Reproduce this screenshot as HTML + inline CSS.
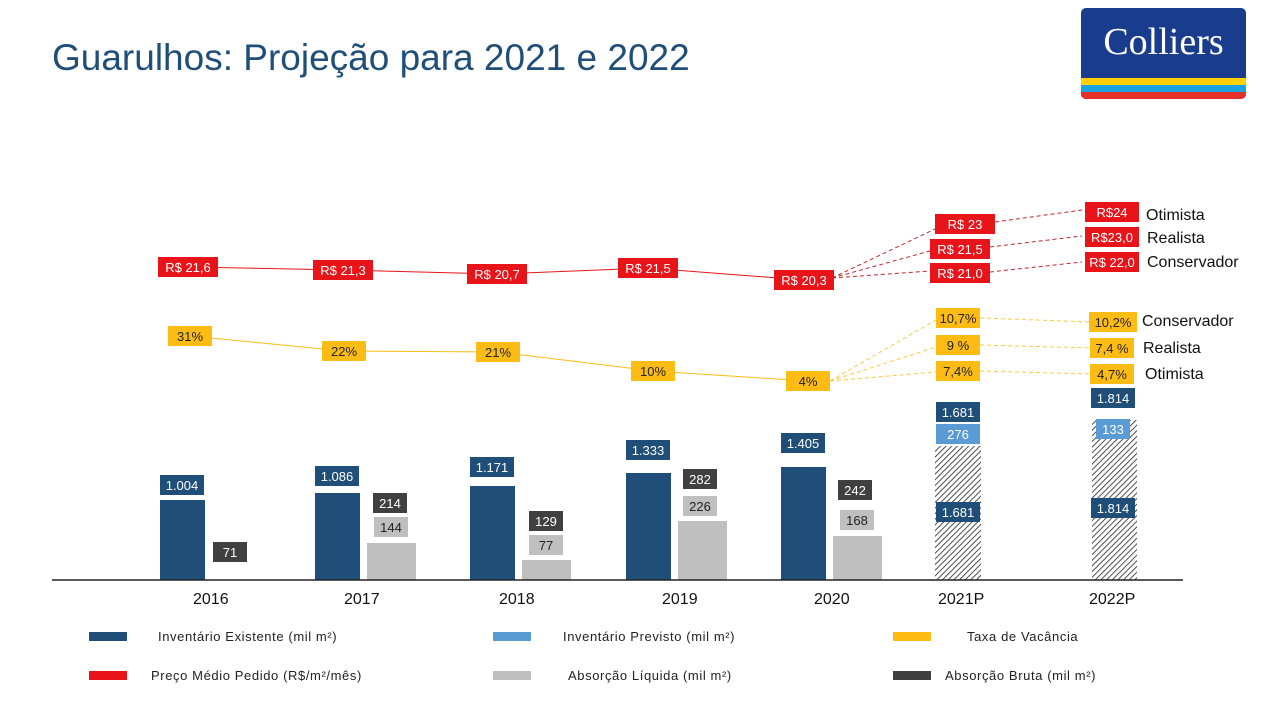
<!DOCTYPE html>
<html><head><meta charset="utf-8"><style>
body{margin:0;width:1280px;height:720px;background:#fff;position:relative;overflow:hidden;font-family:"Liberation Sans",sans-serif}
.b{position:absolute;display:flex;align-items:center;justify-content:center;font-size:13px;transform:translate(-50%,-50%);height:20px}
.r{background:#e8141a;color:#fff;width:60px}
.y{background:#fdbc14;color:#222;width:44px}
.d{background:#1f4e79;color:#fff;width:44px}
.lb{background:#5b9bd5;color:#fff;width:44px}
.g{background:#404040;color:#fff;width:34px}
.lg{background:#bfbfbf;color:#222;width:34px}
.t{position:absolute;font-size:16px;color:#111}
.lgd{position:absolute;font-size:13px;color:#222;letter-spacing:.6px}
.sw{position:absolute;width:38px;height:9px}
</style></head><body>
<div style="position:absolute;left:52px;top:37px;font-size:37px;color:#1f4e79">Guarulhos: Projeção para 2021 e 2022</div>
<div style="position:absolute;left:1081px;top:8px;width:165px;height:91px;border-radius:5px;overflow:hidden;background:#1a3c8c">
<div style="position:absolute;left:0;right:0;top:12px;text-align:center;color:#fff;font-family:'Liberation Serif',serif;font-size:38px">Colliers</div>
<div style="position:absolute;left:0;right:0;top:70px;height:7px;background:#ffd000"></div>
<div style="position:absolute;left:0;right:0;top:77px;height:7px;background:#1ca4e0"></div>
<div style="position:absolute;left:0;right:0;top:84px;height:7px;background:#e4312b"></div>
</div>
<svg width="1280" height="720" style="position:absolute;left:0;top:0">
<defs><pattern id="h" width="4" height="4" patternUnits="userSpaceOnUse" patternTransform="rotate(45)"><rect width="4" height="4" fill="#fff"/><line x1="0" y1="0" x2="0" y2="4" stroke="#222" stroke-width="1.6"/></pattern></defs>
<g fill="#1f4e79"><rect x="160" y="500" width="45" height="80"/><rect x="315" y="493" width="45" height="87"/><rect x="470" y="486" width="45" height="94"/><rect x="626" y="473" width="45" height="107"/><rect x="781" y="467" width="45" height="113"/></g>
<g fill="#bfbfbf"><rect x="367" y="543" width="49" height="37"/><rect x="522" y="560" width="49" height="20"/><rect x="678" y="521" width="49" height="59"/><rect x="833" y="536" width="49" height="44"/></g>
<rect x="935" y="446" width="46" height="134" fill="url(#h)"/>
<rect x="1092" y="420" width="45" height="160" fill="url(#h)"/>
<line x1="52" y1="580" x2="1183" y2="580" stroke="#222" stroke-width="1.5"/>
<polyline points="188,267 343,270 497,274 648,268 804,280" fill="none" stroke="#e8141a" stroke-width="1"/>
<polyline points="190,336 344,351 498,352 653,371 808,381" fill="none" stroke="#fdbc14" stroke-width="1"/>
<g stroke="#c0282d" stroke-dasharray="4,3" fill="none"><path d="M832,278 L935,229 M832,278 L930,251 M832,278 L930,271 M995,222 L1082,210 M990,247 L1082,236 M990,272 L1082,262"/></g>
<g stroke="#fdbc14" stroke-dasharray="4,3" fill="none" opacity=".8"><path d="M830,381 L936,320 M830,381 L936,347 M830,381 L936,372 M980,318 L1090,322 M980,345 L1090,348 M980,371 L1090,374"/></g>
</svg>
<div class="b r" style="left:188px;top:267px">R$ 21,6</div>
<div class="b r" style="left:343px;top:270px">R$ 21,3</div>
<div class="b r" style="left:497px;top:274px">R$ 20,7</div>
<div class="b r" style="left:648px;top:268px">R$ 21,5</div>
<div class="b r" style="left:804px;top:280px">R$ 20,3</div>
<div class="b r" style="left:965px;top:224px">R$ 23</div>
<div class="b r" style="left:960px;top:249px">R$ 21,5</div>
<div class="b r" style="left:960px;top:273px">R$ 21,0</div>
<div class="b r" style="left:1112px;top:212px;width:54px">R$24</div>
<div class="b r" style="left:1112px;top:237px;width:54px">R$23,0</div>
<div class="b r" style="left:1112px;top:262px;width:54px">R$ 22,0</div>
<div class="t" style="left:1146px;top:207px">Otimista</div>
<div class="t" style="left:1147px;top:230px">Realista</div>
<div class="t" style="left:1147px;top:254px">Conservador</div>
<div class="b y" style="left:190px;top:336px">31%</div>
<div class="b y" style="left:344px;top:351px">22%</div>
<div class="b y" style="left:498px;top:352px">21%</div>
<div class="b y" style="left:653px;top:371px">10%</div>
<div class="b y" style="left:808px;top:381px">4%</div>
<div class="b y" style="left:958px;top:318px">10,7%</div>
<div class="b y" style="left:958px;top:345px">9 %</div>
<div class="b y" style="left:958px;top:371px">7,4%</div>
<div class="b y" style="left:1113px;top:322px;width:48px">10,2%</div>
<div class="b y" style="left:1112px;top:348px">7,4 %</div>
<div class="b y" style="left:1112px;top:374px">4,7%</div>
<div class="t" style="left:1142px;top:313px">Conservador</div>
<div class="t" style="left:1143px;top:340px">Realista</div>
<div class="t" style="left:1145px;top:366px">Otimista</div>
<div class="b d" style="left:182px;top:485px">1.004</div>
<div class="b d" style="left:337px;top:476px">1.086</div>
<div class="b d" style="left:492px;top:467px">1.171</div>
<div class="b d" style="left:648px;top:450px">1.333</div>
<div class="b d" style="left:803px;top:443px">1.405</div>
<div class="b d" style="left:958px;top:412px">1.681</div>
<div class="b d" style="left:958px;top:512px">1.681</div>
<div class="b d" style="left:1113px;top:398px">1.814</div>
<div class="b d" style="left:1113px;top:508px">1.814</div>
<div class="b lb" style="left:958px;top:434px">276</div>
<div class="b lb" style="left:1113px;top:429px;width:34px">133</div>
<div class="b g" style="left:230px;top:552px">71</div>
<div class="b g" style="left:390px;top:503px">214</div>
<div class="b g" style="left:546px;top:521px">129</div>
<div class="b g" style="left:700px;top:479px">282</div>
<div class="b g" style="left:855px;top:490px">242</div>
<div class="b lg" style="left:391px;top:527px">144</div>
<div class="b lg" style="left:546px;top:545px">77</div>
<div class="b lg" style="left:700px;top:506px">226</div>
<div class="b lg" style="left:857px;top:520px">168</div>
<div class="t" style="left:193px;top:591px">2016</div>
<div class="t" style="left:344px;top:591px">2017</div>
<div class="t" style="left:499px;top:591px">2018</div>
<div class="t" style="left:662px;top:591px">2019</div>
<div class="t" style="left:814px;top:591px">2020</div>
<div class="t" style="left:938px;top:591px">2021P</div>
<div class="t" style="left:1089px;top:591px">2022P</div>
<div class="sw" style="left:89px;top:632px;background:#1f4e79"></div>
<div class="lgd" style="left:158px;top:629px">Inventário Existente (mil m²)</div>
<div class="sw" style="left:493px;top:632px;background:#5b9bd5"></div>
<div class="lgd" style="left:563px;top:629px">Inventário Previsto (mil m²)</div>
<div class="sw" style="left:893px;top:632px;background:#fdbc14"></div>
<div class="lgd" style="left:967px;top:629px">Taxa de Vacância</div>
<div class="sw" style="left:89px;top:671px;background:#e8141a"></div>
<div class="lgd" style="left:151px;top:668px">Preço Médio Pedido (R$/m²/mês)</div>
<div class="sw" style="left:493px;top:671px;background:#bfbfbf"></div>
<div class="lgd" style="left:568px;top:668px">Absorção Líquida (mil m²)</div>
<div class="sw" style="left:893px;top:671px;background:#404040"></div>
<div class="lgd" style="left:945px;top:668px">Absorção Bruta (mil m²)</div>
</body></html>
